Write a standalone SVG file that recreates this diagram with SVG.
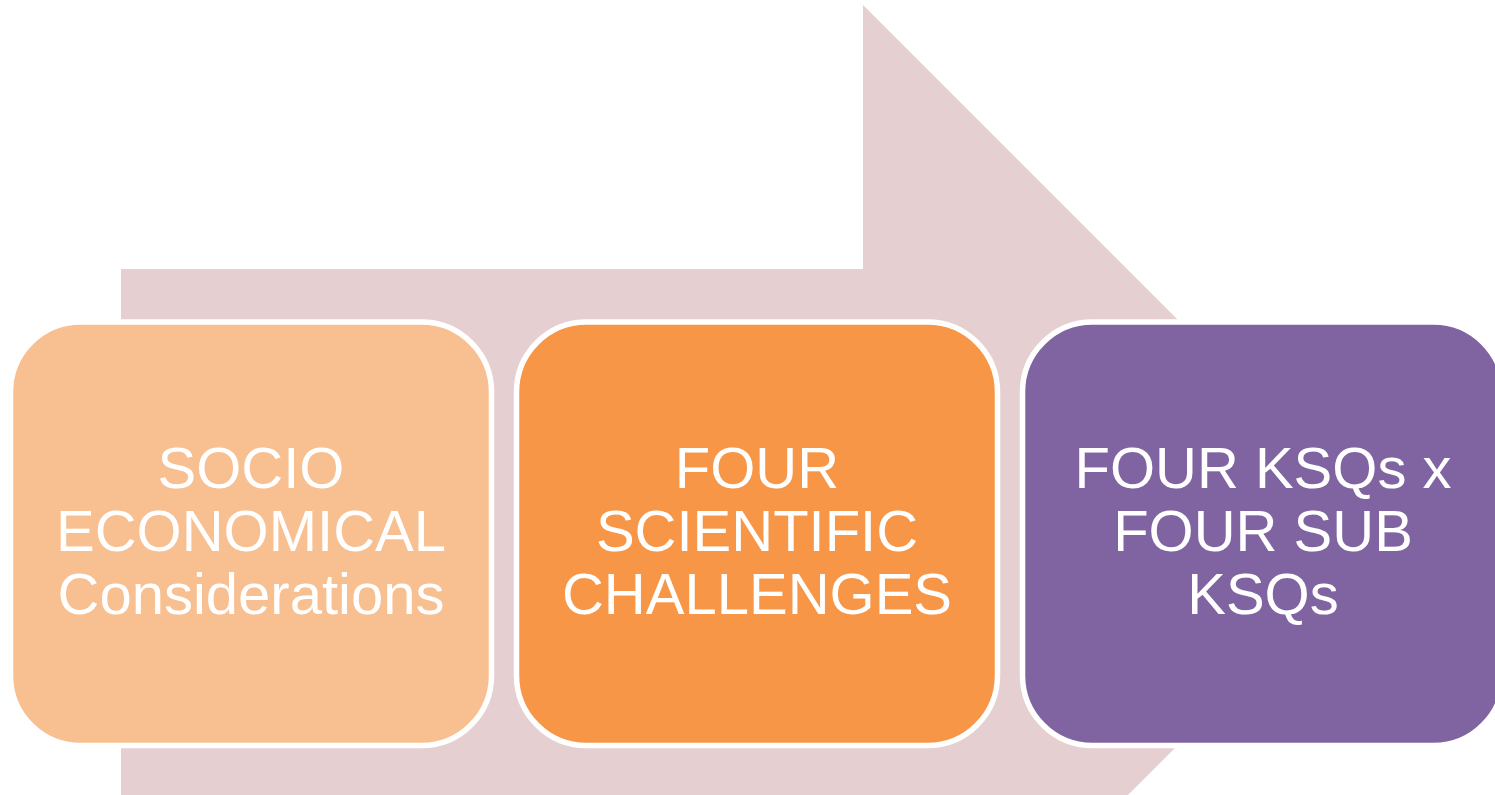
<svg xmlns="http://www.w3.org/2000/svg" width="1495" height="795" viewBox="0 0 1495 795">
<style>
.box{stroke:#FFFFFF;stroke-width:5.5}
.lbl{font-family:"Liberation Sans",Arial,sans-serif;font-size:58px;fill:#FFFFFF;text-anchor:middle}
</style>
<rect width="1495" height="795" fill="#FFFFFF"/>
<g id="connectors">
<polygon id="arrow" points="121,269 863,269 863,5 1390.5,532.5 863,1060 863,800 121,800" fill="#E6CFD0"/>
</g>
<g id="node1">
<rect class="box" x="10.5" y="322" width="481" height="423.5" rx="70" fill="#F8BF90"/>
<text class="lbl"><tspan x="251" y="488">SOCIO</tspan><tspan x="251" y="551">ECONOMICAL</tspan><tspan x="251" y="614">Considerations</tspan></text>
</g>
<g id="node2">
<rect class="box" x="516.5" y="322" width="481" height="423.5" rx="70" fill="#F79646"/>
<text class="lbl"><tspan x="757" y="488">FOUR</tspan><tspan x="757" y="551">SCIENTIFIC</tspan><tspan x="757" y="614">CHALLENGES</tspan></text>
</g>
<g id="node3">
<rect class="box" x="1022.5" y="322" width="481" height="423.5" rx="70" fill="#8064A2"/>
<text class="lbl"><tspan x="1263" y="488">FOUR KSQs x</tspan><tspan x="1263" y="551">FOUR SUB</tspan><tspan x="1263" y="614">KSQs</tspan></text>
</g>
</svg>
